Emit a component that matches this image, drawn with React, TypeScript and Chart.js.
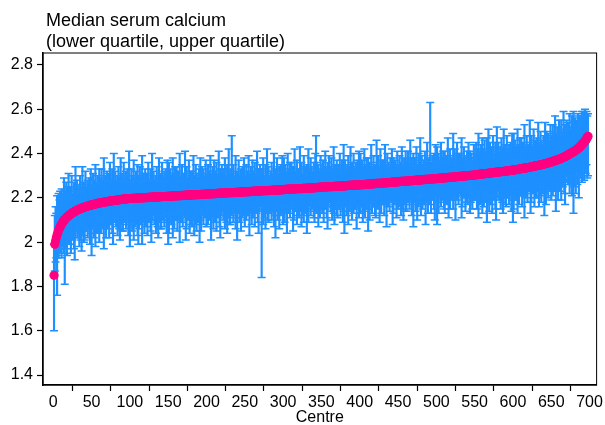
import React, { useEffect, useRef } from 'react';
import { Chart, registerables } from 'chart.js';

Chart.register(...registerables);

const TITLE_LINES = ['Median serum calcium', '(lower quartile, upper quartile)'];
const X_TITLE = 'Centre';
const xTicks = [0, 50, 100, 150, 200, 250, 300, 350, 400, 450, 500, 550, 600, 650, 700];
const yTicks = [1.4, 1.6, 1.8, 2, 2.2, 2.4, 2.6, 2.8];

// median serum calcium per centre, centres ranked by median (centre 1 .. 698)
const medianCalcium = [
  1.850, 1.990, 2.005, 2.020, 2.032, 2.044, 2.054, 2.062, 2.070, 2.076,
  2.082, 2.088, 2.093, 2.098, 2.102, 2.106, 2.110, 2.113, 2.116, 2.119,
  2.122, 2.125, 2.127, 2.130, 2.132, 2.134, 2.136, 2.138, 2.140, 2.142,
  2.144, 2.146, 2.147, 2.149, 2.150, 2.152, 2.153, 2.155, 2.156, 2.157,
  2.158, 2.160, 2.161, 2.162, 2.163, 2.164, 2.165, 2.166, 2.167, 2.168,
  2.169, 2.170, 2.171, 2.172, 2.172, 2.173, 2.174, 2.175, 2.176, 2.176,
  2.177, 2.178, 2.178, 2.179, 2.180, 2.180, 2.181, 2.182, 2.182, 2.183,
  2.183, 2.184, 2.185, 2.185, 2.186, 2.186, 2.187, 2.187, 2.188, 2.188,
  2.189, 2.189, 2.190, 2.190, 2.191, 2.191, 2.192, 2.192, 2.193, 2.193,
  2.194, 2.194, 2.194, 2.195, 2.195, 2.196, 2.196, 2.196, 2.197, 2.197,
  2.197, 2.197, 2.198, 2.198, 2.198, 2.198, 2.198, 2.199, 2.199, 2.199,
  2.199, 2.199, 2.200, 2.200, 2.200, 2.200, 2.200, 2.201, 2.201, 2.201,
  2.201, 2.201, 2.202, 2.202, 2.202, 2.202, 2.202, 2.203, 2.203, 2.203,
  2.203, 2.203, 2.204, 2.204, 2.204, 2.204, 2.204, 2.205, 2.205, 2.205,
  2.205, 2.205, 2.206, 2.206, 2.206, 2.206, 2.206, 2.207, 2.207, 2.207,
  2.207, 2.207, 2.208, 2.208, 2.208, 2.208, 2.208, 2.209, 2.209, 2.209,
  2.209, 2.209, 2.210, 2.210, 2.210, 2.210, 2.210, 2.211, 2.211, 2.211,
  2.211, 2.211, 2.212, 2.212, 2.212, 2.212, 2.212, 2.213, 2.213, 2.213,
  2.213, 2.213, 2.214, 2.214, 2.214, 2.214, 2.214, 2.215, 2.215, 2.215,
  2.215, 2.215, 2.216, 2.216, 2.216, 2.216, 2.216, 2.217, 2.217, 2.217,
  2.217, 2.217, 2.218, 2.218, 2.218, 2.218, 2.218, 2.219, 2.219, 2.219,
  2.219, 2.219, 2.220, 2.220, 2.220, 2.220, 2.220, 2.221, 2.221, 2.221,
  2.221, 2.221, 2.222, 2.222, 2.222, 2.222, 2.222, 2.223, 2.223, 2.223,
  2.223, 2.223, 2.224, 2.224, 2.224, 2.224, 2.224, 2.225, 2.225, 2.225,
  2.225, 2.225, 2.226, 2.226, 2.226, 2.226, 2.226, 2.227, 2.227, 2.227,
  2.227, 2.227, 2.228, 2.228, 2.228, 2.228, 2.228, 2.229, 2.229, 2.229,
  2.229, 2.229, 2.230, 2.230, 2.230, 2.230, 2.230, 2.231, 2.231, 2.231,
  2.231, 2.231, 2.232, 2.232, 2.232, 2.232, 2.232, 2.233, 2.233, 2.233,
  2.233, 2.233, 2.234, 2.234, 2.234, 2.234, 2.234, 2.235, 2.235, 2.235,
  2.235, 2.235, 2.236, 2.236, 2.236, 2.236, 2.236, 2.237, 2.237, 2.237,
  2.237, 2.238, 2.238, 2.238, 2.238, 2.238, 2.239, 2.239, 2.239, 2.239,
  2.239, 2.240, 2.240, 2.240, 2.240, 2.240, 2.241, 2.241, 2.241, 2.241,
  2.242, 2.242, 2.242, 2.242, 2.242, 2.243, 2.243, 2.243, 2.243, 2.243,
  2.244, 2.244, 2.244, 2.244, 2.245, 2.245, 2.245, 2.245, 2.245, 2.246,
  2.246, 2.246, 2.246, 2.246, 2.247, 2.247, 2.247, 2.247, 2.248, 2.248,
  2.248, 2.248, 2.249, 2.249, 2.249, 2.249, 2.249, 2.250, 2.250, 2.250,
  2.250, 2.251, 2.251, 2.251, 2.251, 2.251, 2.252, 2.252, 2.252, 2.252,
  2.253, 2.253, 2.253, 2.253, 2.253, 2.254, 2.254, 2.254, 2.254, 2.254,
  2.255, 2.255, 2.255, 2.255, 2.256, 2.256, 2.256, 2.256, 2.256, 2.257,
  2.257, 2.257, 2.257, 2.258, 2.258, 2.258, 2.258, 2.258, 2.259, 2.259,
  2.259, 2.259, 2.260, 2.260, 2.260, 2.260, 2.261, 2.261, 2.261, 2.262,
  2.262, 2.262, 2.262, 2.263, 2.263, 2.263, 2.263, 2.264, 2.264, 2.264,
  2.265, 2.265, 2.265, 2.265, 2.266, 2.266, 2.266, 2.266, 2.267, 2.267,
  2.267, 2.268, 2.268, 2.268, 2.268, 2.269, 2.269, 2.269, 2.269, 2.270,
  2.270, 2.270, 2.271, 2.271, 2.271, 2.271, 2.272, 2.272, 2.272, 2.273,
  2.273, 2.273, 2.274, 2.274, 2.274, 2.274, 2.275, 2.275, 2.275, 2.276,
  2.276, 2.276, 2.276, 2.277, 2.277, 2.277, 2.278, 2.278, 2.278, 2.278,
  2.279, 2.279, 2.279, 2.280, 2.280, 2.280, 2.280, 2.281, 2.281, 2.281,
  2.282, 2.282, 2.282, 2.282, 2.283, 2.283, 2.283, 2.284, 2.284, 2.284,
  2.284, 2.285, 2.285, 2.285, 2.286, 2.286, 2.286, 2.286, 2.287, 2.287,
  2.287, 2.288, 2.288, 2.288, 2.289, 2.289, 2.289, 2.290, 2.290, 2.290,
  2.290, 2.291, 2.291, 2.291, 2.292, 2.292, 2.292, 2.293, 2.293, 2.293,
  2.294, 2.294, 2.294, 2.295, 2.295, 2.295, 2.296, 2.296, 2.296, 2.297,
  2.297, 2.297, 2.298, 2.298, 2.298, 2.299, 2.299, 2.299, 2.300, 2.300,
  2.300, 2.301, 2.301, 2.301, 2.302, 2.302, 2.302, 2.303, 2.303, 2.303,
  2.304, 2.304, 2.305, 2.305, 2.306, 2.306, 2.306, 2.307, 2.307, 2.308,
  2.308, 2.309, 2.309, 2.309, 2.310, 2.310, 2.311, 2.311, 2.312, 2.312,
  2.312, 2.313, 2.313, 2.314, 2.314, 2.315, 2.315, 2.315, 2.316, 2.316,
  2.317, 2.317, 2.318, 2.318, 2.318, 2.319, 2.319, 2.320, 2.320, 2.321,
  2.321, 2.321, 2.322, 2.322, 2.323, 2.323, 2.324, 2.324, 2.324, 2.325,
  2.326, 2.326, 2.327, 2.327, 2.328, 2.329, 2.329, 2.330, 2.330, 2.331,
  2.332, 2.332, 2.333, 2.333, 2.334, 2.335, 2.335, 2.336, 2.336, 2.337,
  2.338, 2.338, 2.339, 2.340, 2.341, 2.341, 2.342, 2.343, 2.344, 2.344,
  2.345, 2.346, 2.347, 2.347, 2.348, 2.349, 2.350, 2.350, 2.351, 2.352,
  2.353, 2.354, 2.355, 2.356, 2.357, 2.358, 2.359, 2.360, 2.361, 2.362,
  2.363, 2.364, 2.366, 2.367, 2.368, 2.369, 2.370, 2.372, 2.373, 2.374,
  2.375, 2.377, 2.378, 2.380, 2.382, 2.383, 2.385, 2.386, 2.388, 2.390,
  2.392, 2.394, 2.396, 2.398, 2.400, 2.402, 2.404, 2.406, 2.408, 2.410,
  2.412, 2.415, 2.417, 2.420, 2.423, 2.426, 2.429, 2.432, 2.436, 2.440,
  2.444, 2.448, 2.452, 2.456, 2.461, 2.466, 2.472, 2.478,
];

const lowerQuartile = [
  1.60, 1.87, 1.91, 1.93, 1.76, 1.94, 1.93, 1.97, 1.95, 1.99,
  1.93, 1.98, 2.00, 1.95, 1.81, 2.01, 1.97, 1.94, 2.02, 1.99,
  1.99, 2.02, 1.95, 2.04, 2.01, 2.03, 1.97, 1.92, 2.02, 2.05,
  2.06, 2.02, 2.04, 1.98, 2.07, 2.01, 1.96, 2.05, 2.03, 2.00,
  2.01, 2.07, 2.05, 2.09, 2.02, 2.06, 2.08, 1.99, 2.04, 1.94,
  2.06, 2.09, 2.02, 2.07, 1.98, 2.08, 2.04, 2.10, 2.05, 2.00,
  2.09, 2.04, 2.11, 2.06, 2.08, 1.97, 2.07, 2.10, 2.02, 2.08,
  2.06, 2.09, 2.02, 2.11, 2.08, 2.10, 2.04, 1.99, 2.09, 2.12,
  2.11, 2.07, 2.09, 2.03, 2.12, 2.06, 2.01, 2.10, 2.08, 2.05,
  2.05, 2.11, 2.09, 2.13, 2.06, 2.10, 2.12, 2.03, 2.08, 1.98,
  2.09, 2.12, 2.05, 2.10, 2.01, 2.11, 2.07, 2.13, 2.08, 2.03,
  1.99, 2.06, 2.13, 2.08, 2.10, 1.99, 2.09, 2.12, 2.04, 2.10,
  2.07, 2.10, 2.03, 2.12, 2.09, 2.11, 2.05, 2.00, 2.10, 2.13,
  2.12, 2.08, 2.10, 2.04, 2.13, 2.07, 2.02, 2.11, 2.09, 2.06,
  2.06, 2.12, 2.10, 2.14, 2.07, 2.11, 2.13, 2.04, 2.09, 1.99,
  2.04, 2.09, 2.14, 2.08, 2.12, 2.02, 2.11, 2.06, 2.13, 2.10,
  2.11, 2.05, 2.13, 2.10, 2.00, 2.11, 2.09, 2.14, 2.07, 2.12,
  2.14, 2.11, 2.01, 2.06, 2.12, 2.10, 2.13, 2.04, 2.11, 2.08,
  2.07, 2.10, 2.12, 2.03, 2.08, 2.14, 2.05, 2.11, 2.09, 2.13,
  2.00, 2.10, 2.05, 2.14, 2.12, 2.08, 2.15, 2.11, 2.13, 2.07,
  2.13, 2.08, 2.15, 2.10, 2.12, 2.01, 2.11, 2.14, 2.06, 2.12,
  2.09, 2.12, 2.05, 2.14, 2.11, 2.13, 2.07, 2.02, 2.12, 2.15,
  2.14, 2.10, 2.12, 2.06, 2.15, 2.09, 2.04, 2.13, 2.11, 2.08,
  2.08, 2.14, 2.12, 2.16, 2.09, 2.13, 2.15, 2.06, 2.11, 2.01,
  2.13, 2.16, 2.09, 2.14, 2.05, 2.15, 2.11, 2.17, 2.12, 2.07,
  2.15, 2.10, 2.17, 2.12, 2.14, 2.03, 2.13, 2.16, 2.08, 2.14,
  2.11, 2.14, 2.07, 2.16, 2.13, 2.15, 2.09, 2.04, 2.14, 2.17,
  2.16, 1.84, 2.14, 2.08, 2.17, 2.11, 2.06, 2.15, 2.13, 2.10,
  2.09, 2.15, 2.13, 2.17, 2.10, 2.14, 2.16, 2.07, 2.12, 2.02,
  2.14, 2.17, 2.10, 2.15, 2.06, 2.16, 2.12, 2.18, 2.13, 2.08,
  2.15, 2.09, 2.17, 2.14, 2.04, 2.15, 2.13, 2.18, 2.11, 2.16,
  2.18, 2.15, 2.05, 2.10, 2.16, 2.14, 2.17, 2.08, 2.15, 2.12,
  2.11, 2.14, 2.16, 2.07, 2.12, 2.18, 2.09, 2.15, 2.13, 2.17,
  2.04, 2.14, 2.09, 2.18, 2.16, 2.12, 2.19, 2.15, 2.17, 2.11,
  2.09, 2.14, 2.19, 2.13, 2.17, 2.07, 2.16, 2.11, 2.18, 2.15,
  2.13, 2.16, 2.09, 2.18, 2.15, 2.17, 2.11, 2.06, 2.16, 2.19,
  2.18, 2.14, 2.16, 2.10, 2.19, 2.13, 2.08, 2.17, 2.15, 2.12,
  2.11, 2.17, 2.15, 2.19, 2.12, 2.16, 2.18, 2.09, 2.14, 2.04,
  2.16, 2.19, 2.12, 2.17, 2.08, 2.18, 2.14, 2.20, 2.15, 2.10,
  2.18, 2.13, 2.20, 2.15, 2.17, 2.06, 2.16, 2.19, 2.11, 2.17,
  2.13, 2.16, 2.18, 2.09, 2.14, 2.20, 2.11, 2.17, 2.15, 2.19,
  2.05, 2.15, 2.10, 2.19, 2.17, 2.13, 2.20, 2.16, 2.18, 2.12,
  2.11, 2.16, 2.21, 2.15, 2.19, 2.09, 2.18, 2.13, 2.20, 2.17,
  2.18, 2.12, 2.20, 2.17, 2.07, 2.18, 2.16, 2.21, 2.14, 2.19,
  2.21, 2.18, 2.08, 2.13, 2.19, 2.17, 2.20, 2.11, 2.18, 2.15,
  2.20, 2.16, 2.18, 2.12, 2.21, 2.15, 2.10, 2.19, 2.17, 2.14,
  2.14, 2.20, 2.18, 2.22, 2.15, 2.19, 2.21, 2.12, 2.17, 2.07,
  2.18, 2.21, 2.14, 2.19, 2.10, 2.20, 2.16, 2.22, 2.17, 2.12,
  2.20, 2.15, 2.22, 2.17, 2.19, 2.08, 2.18, 2.21, 2.13, 2.19,
  2.17, 2.20, 2.13, 2.22, 2.19, 2.21, 2.15, 2.10, 2.20, 2.23,
  2.08, 2.18, 2.13, 2.22, 2.20, 2.16, 2.23, 2.19, 2.21, 2.15,
  2.13, 2.18, 2.23, 2.17, 2.21, 2.11, 2.20, 2.15, 2.22, 2.19,
  2.21, 2.15, 2.23, 2.20, 2.10, 2.21, 2.19, 2.24, 2.17, 2.22,
  2.24, 2.21, 2.11, 2.16, 2.22, 2.20, 2.23, 2.14, 2.21, 2.18,
  2.17, 2.20, 2.22, 2.13, 2.18, 2.24, 2.15, 2.21, 2.19, 2.23,
  2.19, 2.22, 2.15, 2.20, 2.11, 2.21, 2.17, 2.23, 2.18, 2.13,
  2.21, 2.16, 2.23, 2.18, 2.20, 2.09, 2.19, 2.22, 2.14, 2.20,
  2.17, 2.20, 2.13, 2.22, 2.19, 2.21, 2.15, 2.10, 2.20, 2.23,
  2.23, 2.19, 2.21, 2.15, 2.24, 2.18, 2.13, 2.22, 2.20, 2.17,
  2.16, 2.22, 2.20, 2.24, 2.17, 2.21, 2.23, 2.14, 2.19, 2.09,
  2.15, 2.20, 2.25, 2.19, 2.23, 2.13, 2.22, 2.17, 2.24, 2.21,
  2.22, 2.16, 2.24, 2.21, 2.11, 2.22, 2.20, 2.25, 2.18, 2.23,
  2.26, 2.23, 2.13, 2.18, 2.24, 2.22, 2.25, 2.16, 2.23, 2.20,
  2.20, 2.23, 2.25, 2.16, 2.21, 2.27, 2.18, 2.24, 2.22, 2.26,
  2.12, 2.22, 2.17, 2.26, 2.24, 2.20, 2.27, 2.23, 2.25, 2.19,
  2.26, 2.21, 2.28, 2.23, 2.25, 2.14, 2.24, 2.27, 2.19, 2.25,
  2.23, 2.26, 2.19, 2.28, 2.25, 2.28, 2.22, 2.17, 2.27, 2.30,
  2.30, 2.26, 2.28, 2.22, 2.31, 2.26, 2.21, 2.30, 2.13, 2.25,
  2.29, 2.22, 2.32, 2.26, 2.33, 2.20, 2.32, 2.29, 2.34, 2.27,
  2.30, 2.34, 2.28, 2.33, 2.31, 2.35, 2.29, 2.30,
];

const upperQuartile = [
  1.99, 2.12, 2.16, 2.13, 2.21, 2.16, 2.22, 2.19, 2.23, 2.17,
  2.24, 2.18, 2.22, 2.29, 2.19, 2.23, 2.27, 2.20, 2.25, 2.31,
  2.21, 2.25, 2.23, 2.30, 2.22, 2.20, 2.27, 2.24, 2.34, 2.22,
  2.28, 2.24, 2.22, 2.26, 2.30, 2.23, 2.25, 2.34, 2.24, 2.27,
  2.26, 2.32, 2.25, 2.24, 2.28, 2.23, 2.29, 2.26, 2.33, 2.24,
  2.26, 2.31, 2.25, 2.28, 2.35, 2.27, 2.24, 2.30, 2.26, 2.33,
  2.29, 2.26, 2.33, 2.28, 2.25, 2.38, 2.27, 2.30, 2.26, 2.32,
  2.27, 2.31, 2.29, 2.36, 2.28, 2.26, 2.33, 2.30, 2.40, 2.28,
  2.32, 2.28, 2.26, 2.30, 2.34, 2.27, 2.29, 2.38, 2.28, 2.31,
  2.30, 2.36, 2.29, 2.28, 2.32, 2.27, 2.33, 2.30, 2.41, 2.28,
  2.28, 2.33, 2.27, 2.30, 2.37, 2.29, 2.26, 2.32, 2.28, 2.35,
  2.30, 2.27, 2.34, 2.29, 2.26, 2.39, 2.28, 2.31, 2.27, 2.33,
  2.27, 2.31, 2.29, 2.36, 2.28, 2.26, 2.33, 2.30, 2.40, 2.28,
  2.32, 2.28, 2.26, 2.30, 2.34, 2.27, 2.29, 2.38, 2.28, 2.31,
  2.30, 2.36, 2.29, 2.28, 2.32, 2.27, 2.33, 2.30, 2.37, 2.28,
  2.36, 2.29, 2.33, 2.27, 2.30, 2.38, 2.31, 2.28, 2.34, 2.29,
  2.34, 2.28, 2.32, 2.29, 2.40, 2.27, 2.30, 2.35, 2.28, 2.31,
  2.29, 2.41, 2.31, 2.34, 2.27, 2.29, 2.37, 2.30, 2.32, 2.28,
  2.32, 2.29, 2.39, 2.30, 2.28, 2.35, 2.31, 2.27, 2.29, 2.33,
  2.29, 2.38, 2.31, 2.34, 2.28, 2.33, 2.29, 2.30, 2.37, 2.31,
  2.30, 2.35, 2.29, 2.32, 2.39, 2.31, 2.28, 2.34, 2.30, 2.37,
  2.32, 2.29, 2.36, 2.31, 2.28, 2.41, 2.30, 2.33, 2.29, 2.35,
  2.29, 2.33, 2.31, 2.38, 2.30, 2.28, 2.35, 2.32, 2.42, 2.30,
  2.33, 2.29, 2.48, 2.31, 2.35, 2.28, 2.30, 2.39, 2.29, 2.32,
  2.31, 2.37, 2.30, 2.29, 2.33, 2.28, 2.34, 2.31, 2.38, 2.29,
  2.30, 2.35, 2.29, 2.32, 2.39, 2.31, 2.28, 2.34, 2.30, 2.37,
  2.32, 2.29, 2.36, 2.31, 2.28, 2.41, 2.30, 2.33, 2.29, 2.35,
  2.29, 2.33, 2.31, 2.38, 2.30, 2.28, 2.35, 2.32, 2.42, 2.30,
  2.34, 2.30, 2.28, 2.32, 2.36, 2.29, 2.31, 2.40, 2.30, 2.33,
  2.32, 2.38, 2.31, 2.30, 2.34, 2.29, 2.35, 2.32, 2.39, 2.30,
  2.38, 2.31, 2.35, 2.29, 2.32, 2.40, 2.33, 2.30, 2.36, 2.31,
  2.36, 2.30, 2.34, 2.31, 2.42, 2.29, 2.32, 2.37, 2.30, 2.33,
  2.31, 2.43, 2.33, 2.36, 2.29, 2.31, 2.39, 2.32, 2.34, 2.30,
  2.35, 2.32, 2.42, 2.33, 2.31, 2.38, 2.34, 2.30, 2.32, 2.36,
  2.31, 2.40, 2.48, 2.36, 2.30, 2.35, 2.31, 2.32, 2.39, 2.33,
  2.32, 2.37, 2.31, 2.34, 2.41, 2.33, 2.30, 2.36, 2.32, 2.39,
  2.34, 2.31, 2.38, 2.33, 2.30, 2.43, 2.32, 2.35, 2.31, 2.37,
  2.31, 2.35, 2.33, 2.40, 2.32, 2.30, 2.37, 2.34, 2.44, 2.32,
  2.37, 2.33, 2.31, 2.35, 2.39, 2.32, 2.34, 2.43, 2.33, 2.36,
  2.34, 2.40, 2.33, 2.32, 2.36, 2.31, 2.37, 2.34, 2.41, 2.32,
  2.40, 2.33, 2.37, 2.31, 2.34, 2.42, 2.35, 2.32, 2.38, 2.33,
  2.38, 2.32, 2.36, 2.33, 2.44, 2.31, 2.34, 2.39, 2.32, 2.35,
  2.34, 2.46, 2.36, 2.39, 2.32, 2.34, 2.42, 2.35, 2.37, 2.33,
  2.37, 2.34, 2.44, 2.35, 2.33, 2.40, 2.36, 2.32, 2.34, 2.38,
  2.33, 2.42, 2.35, 2.38, 2.32, 2.37, 2.33, 2.34, 2.41, 2.35,
  2.34, 2.39, 2.33, 2.36, 2.43, 2.35, 2.32, 2.38, 2.34, 2.41,
  2.37, 2.34, 2.41, 2.36, 2.33, 2.46, 2.35, 2.38, 2.34, 2.40,
  2.34, 2.38, 2.36, 2.43, 2.35, 2.33, 2.40, 2.37, 2.47, 2.35,
  2.39, 2.35, 2.33, 2.37, 2.41, 2.34, 2.36, 2.45, 2.35, 2.38,
  2.37, 2.63, 2.36, 2.35, 2.39, 2.34, 2.40, 2.37, 2.44, 2.35,
  2.43, 2.36, 2.40, 2.34, 2.37, 2.45, 2.38, 2.35, 2.41, 2.36,
  2.41, 2.35, 2.39, 2.36, 2.47, 2.34, 2.37, 2.42, 2.35, 2.38,
  2.37, 2.49, 2.39, 2.42, 2.35, 2.37, 2.45, 2.38, 2.40, 2.36,
  2.40, 2.37, 2.47, 2.38, 2.36, 2.43, 2.39, 2.35, 2.37, 2.41,
  2.36, 2.45, 2.38, 2.41, 2.35, 2.40, 2.36, 2.37, 2.44, 2.38,
  2.40, 2.45, 2.39, 2.42, 2.49, 2.41, 2.38, 2.44, 2.40, 2.47,
  2.42, 2.39, 2.46, 2.41, 2.38, 2.47, 2.40, 2.51, 2.39, 2.45,
  2.39, 2.43, 2.41, 2.48, 2.40, 2.38, 2.45, 2.42, 2.52, 2.40,
  2.45, 2.41, 2.39, 2.43, 2.47, 2.40, 2.42, 2.51, 2.41, 2.44,
  2.42, 2.48, 2.41, 2.40, 2.44, 2.39, 2.45, 2.42, 2.49, 2.40,
  2.49, 2.42, 2.46, 2.40, 2.43, 2.51, 2.44, 2.41, 2.47, 2.42,
  2.47, 2.41, 2.45, 2.42, 2.53, 2.40, 2.43, 2.48, 2.41, 2.44,
  2.43, 2.55, 2.45, 2.48, 2.41, 2.43, 2.51, 2.44, 2.46, 2.42,
  2.47, 2.44, 2.54, 2.45, 2.43, 2.50, 2.46, 2.42, 2.44, 2.48,
  2.45, 2.54, 2.47, 2.50, 2.44, 2.49, 2.45, 2.46, 2.53, 2.47,
  2.48, 2.53, 2.47, 2.50, 2.57, 2.49, 2.46, 2.52, 2.48, 2.55,
  2.51, 2.48, 2.55, 2.50, 2.47, 2.59, 2.50, 2.53, 2.49, 2.55,
  2.50, 2.54, 2.52, 2.58, 2.51, 2.50, 2.57, 2.54, 2.59, 2.52,
  2.56, 2.52, 2.55, 2.50, 2.58, 2.54, 2.57, 2.52, 2.56, 2.59,
  2.57, 2.59, 2.56, 2.60, 2.58, 2.59, 2.57, 2.58,
];

const BLUE = '#1e90ff';
const PINK = 'rgb(255,0,128)';
const FONT = "'Liberation Sans', Arial, Helvetica, sans-serif";

export default function App() {
  const canvasRef = useRef<HTMLCanvasElement | null>(null);

  useEffect(() => {
    const canvas = canvasRef.current;
    if (!canvas) return;
    const n = Math.min(medianCalcium.length, lowerQuartile.length, upperQuartile.length);
    const centres = Array.from({ length: n }, (_, i) => i + 1);

    const framePlugin = {
      id: 'frame',
      afterDatasetsDraw(chart: any) {
        const { ctx, chartArea } = chart;
        ctx.save();
        ctx.strokeStyle = '#000';
        ctx.lineWidth = 1;
        ctx.strokeRect(chartArea.left, chartArea.top, chartArea.right - chartArea.left, chartArea.bottom - chartArea.top);
        ctx.restore();
      },
    };

    const titlePlugin = {
      id: 'topTitle',
      afterDraw(chart: any) {
        const { ctx, chartArea } = chart;
        ctx.save();
        ctx.fillStyle = '#000';
        ctx.font = `18px ${FONT}`;
        ctx.textAlign = 'left';
        ctx.textBaseline = 'alphabetic';
        ctx.fillText(TITLE_LINES[0], chartArea.left + 3, 26);
        ctx.fillText(TITLE_LINES[1], chartArea.left + 3, 47);
        ctx.restore();
      },
    };

    const chart = new Chart(canvas, {
      type: 'bar',
      data: {
        datasets: [
          {
            type: 'scatter',
            label: 'Median',
            data: centres.map((c, i) => ({ x: c, y: medianCalcium[i] })),
            pointRadius: 4.6,
            pointBackgroundColor: PINK,
            pointBorderColor: PINK,
            pointBorderWidth: 0,
            order: 0,
          } as any,
          {
            type: 'scatter',
            label: 'Upper quartile',
            data: centres.map((c, i) => ({ x: c, y: upperQuartile[i] })),
            pointStyle: 'line',
            pointRadius: 4,
            pointBorderColor: BLUE,
            pointBorderWidth: 1.5,
            order: 1,
          } as any,
          {
            type: 'scatter',
            label: 'Lower quartile',
            data: centres.map((c, i) => ({ x: c, y: lowerQuartile[i] })),
            pointStyle: 'line',
            pointRadius: 4,
            pointBorderColor: BLUE,
            pointBorderWidth: 1.5,
            order: 1,
          } as any,
          {
            type: 'bar',
            label: 'IQR',
            data: centres.map((c, i) => ({ x: c, y: [lowerQuartile[i], upperQuartile[i]] })),
            backgroundColor: BLUE,
            borderWidth: 0,
            barThickness: 1.5,
            order: 2,
          } as any,
        ],
      },
      options: {
        responsive: false,
        animation: false,
        events: [],
        layout: { padding: { top: 53, right: 7, left: 0, bottom: 0 } },
        plugins: { legend: { display: false }, tooltip: { enabled: false }, title: { display: false } },
        scales: {
          x: {
            type: 'linear',
            min: -13.4,
            max: 709.2,
            offset: false,
            grid: { display: true, drawOnChartArea: false, drawTicks: true, tickLength: 6, color: '#000', tickColor: '#000', tickWidth: 1.2 },
            border: { display: true, color: '#000', width: 1.5 },
            afterBuildTicks: (s: any) => { s.ticks = xTicks.map((v) => ({ value: v })); },
            afterFit: (s: any) => { s.height = 40; },
            ticks: { color: '#000', font: { family: FONT, size: 16 }, padding: 2, maxRotation: 0, autoSkip: false, callback: (v: any) => String(v) },
            title: { display: true, text: X_TITLE, color: '#000', font: { family: FONT, size: 16, lineHeight: 0.8 }, padding: { top: 0, bottom: 1 } },
          },
          y: {
            type: 'linear',
            min: 1.355,
            max: 2.854,
            grid: { display: true, drawOnChartArea: false, drawTicks: true, tickLength: 6, color: '#000', tickColor: '#000', tickWidth: 1.2 },
            border: { display: true, color: '#000', width: 1.5 },
            afterBuildTicks: (s: any) => { s.ticks = yTicks.map((v) => ({ value: v })); },
            afterFit: (s: any) => { s.width = 43; },
            ticks: { color: '#000', font: { family: FONT, size: 16 }, padding: 4, autoSkip: false, callback: (v: any) => String(v) },
          },
        },
      } as any,
      plugins: [framePlugin, titlePlugin],
    });

    return () => chart.destroy();
  }, []);

  return (
    <div style={{ position: 'absolute', left: 0, top: 0, width: 605, height: 425, background: '#fff' }}>
      <canvas ref={canvasRef} width={605} height={425} style={{ display: 'block' }} />
    </div>
  );
}
